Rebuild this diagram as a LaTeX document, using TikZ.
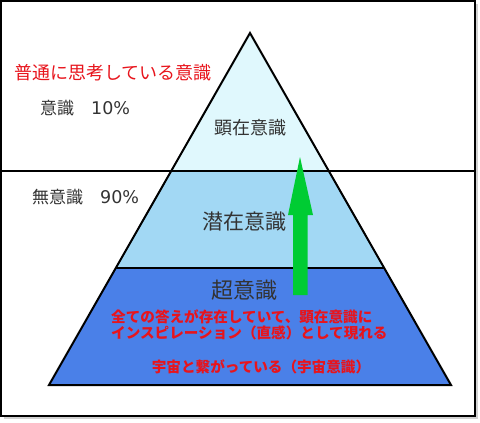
\documentclass[tikz,border=0pt]{standalone}
\usepackage{fontspec}
\setmainfont{Noto Sans CJK JP}
\newfontfamily\suuji{DejaVu Sans}
\usepackage{tikz}

\definecolor{kenzai}{HTML}{E0F8FD}
\definecolor{senzai}{HTML}{A2D8F4}
\definecolor{chou}{HTML}{4A80E8}
\definecolor{yajirushi}{HTML}{00CC33}
\definecolor{akaji}{HTML}{E8141C}
\definecolor{sumi}{HTML}{333333}

\begin{document}
\begin{tikzpicture}[x=1pt,y=-1pt]
		\tikzstyle{every node}+=[inner sep=0pt]
		\tikzstyle{label}=[text=sumi,font=\fontsize{17}{17}\selectfont]
		\tikzstyle{layer}=[text=sumi]
		\tikzstyle{note}=[text=akaji,font=\bfseries\fontsize{14.6}{15.5}\selectfont]
		\useasboundingbox (0,0) rectangle (480,423);
		% frame
		\fill [black!18] (4,4) rectangle (478,419);
		\draw [black, fill=white, line width=1.2] (1,1) rectangle (475,416);
		% pyramid
		\coordinate (apex) at (250,33);
		\coordinate (l1) at (171,171);
		\coordinate (r1) at (329,171);
		\coordinate (l2) at (116,268);
		\coordinate (r2) at (384,268);
		\coordinate (l3) at (49,385);
		\coordinate (r3) at (451,385);
		\coordinate (w1) at (1,171);
		\coordinate (e1) at (475,171);
		\fill [kenzai] (apex) -- (l1) -- (r1) -- cycle;
		\fill [senzai] (l1) -- (r1) -- (r2) -- (l2) -- cycle;
		\fill [chou] (l2) -- (r2) -- (r3) -- (l3) -- cycle;
		\draw [black, line width=1.5] (w1) -- (e1);
		\draw [black, line width=1.8] (l2) -- (r2);
		\draw [black, line width=2, line join=miter] (apex) -- (l3) -- (r3) -- cycle;
		% arrow
		\fill [yajirushi] (300,157) -- (313,215) -- (307.5,215) -- (307.5,295)
			-- (293,295) -- (293,215) -- (288,215) -- cycle;
		% texts
		\node [text=akaji, font=\fontsize{18}{18}\selectfont] (futsuu) at (113,73) {普通に思考している意識};
		\node [label, anchor=west] (ishiki) at (40,108) {意識　{\suuji\fontsize{17.5}{17.5}\selectfont 10\%}};
		\node [label, anchor=west] (muishiki) at (32,197) {無意識　{\suuji\fontsize{17.5}{17.5}\selectfont 90\%}};
		\node [layer, font=\fontsize{18}{18}\selectfont] (kenzaiishiki) at (250,128) {顕在意識};
		\node [layer, font=\fontsize{21}{21}\selectfont] (senzaiishiki) at (244,222) {潜在意識};
		\node [layer, font=\fontsize{22}{22}\selectfont] (chouishiki) at (244,290) {超意識};
		\node [note, anchor=west, align=left] (kotae) at (111,325) {全ての答えが存在していて、顕在意識に\\インスピレーション（直感）として現れる};
		\node [note] (uchuu) at (261,367) {宇宙と繋がっている（宇宙意識）};
	\end{tikzpicture}
\end{document}
